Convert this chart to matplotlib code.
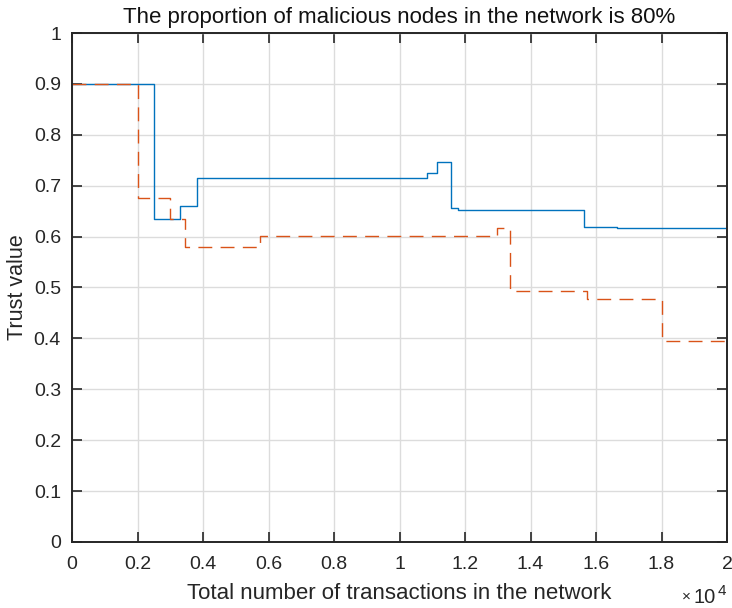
import numpy as np
import matplotlib
matplotlib.use("Agg")
import matplotlib.pyplot as plt

plt.rcParams['font.family'] = ['Liberation Sans', 'DejaVu Sans']

# step series (x = total transactions)
blue_x = [0, 2500, 3300, 3810, 10830, 11150, 11580, 11780, 15640, 16630, 20000]
blue_y = [0.900, 0.634, 0.661, 0.716, 0.725, 0.746, 0.657, 0.652, 0.618, 0.617, 0.617]

red_x = [0, 2000, 3000, 3460, 5750, 12990, 13370, 15720, 18000, 20000]
red_y = [0.900, 0.676, 0.635, 0.580, 0.601, 0.616, 0.493, 0.478, 0.394, 0.394]

x_ticks = np.arange(0, 20001, 2000)
x_labels = ['0', '0.2', '0.4', '0.6', '0.8', '1', '1.2', '1.4', '1.6', '1.8', '2']
y_ticks = np.arange(0, 1.01, 0.1)
y_labels = ['0', '0.1', '0.2', '0.3', '0.4', '0.5', '0.6', '0.7', '0.8', '0.9', '1']

fig = plt.figure(figsize=(7.32, 6.08), dpi=100)
ax = fig.add_axes([0.0984, 0.1086, 0.8948, 0.8371])

ax.plot(blue_x, blue_y, drawstyle='steps-post', color='#0072BD', lw=1.0)
ax.plot(red_x, red_y, drawstyle='steps-post', color='#D95319', lw=1.0,
        linestyle=(0, (10, 6)))

ax.set_xlim(0, 20000)
ax.set_ylim(0, 1)
ax.set_xticks(x_ticks)
ax.set_xticklabels(x_labels)
ax.set_yticks(y_ticks)
ax.set_yticklabels(y_labels)
ax.tick_params(direction='in', length=7, width=1.2, labelsize=14, top=True, right=True,
               colors='#262626')
ax.tick_params(axis='x', pad=10)
ax.tick_params(axis='y', pad=8)
for s in ax.spines.values():
    s.set_linewidth(1.4)
    s.set_color('#262626')
ax.grid(True, color='#dcdcdc', lw=1.0)
ax.set_axisbelow(True)

ax.set_xlabel('Total number of transactions in the network', fontsize=16, color='#262626', labelpad=7)
ax.set_ylabel('Trust value', fontsize=15.5, color='#262626', labelpad=4)
ax.set_title('The proportion of malicious nodes in the network is 80%', fontsize=16, color='#111111', pad=7)

# x10^4 exponent label, MATLAB style
fig.text(0.937, 0.018, '\u00d7', ha='center', va='center', fontsize=11, color='#262626')
fig.text(0.948, 0.0082, '10', ha='left', va='baseline', fontsize=14.5, color='#262626')
fig.text(0.981, 0.0214, '4', ha='left', va='baseline', fontsize=11, color='#262626')

fig.savefig('out.png', dpi=100)
